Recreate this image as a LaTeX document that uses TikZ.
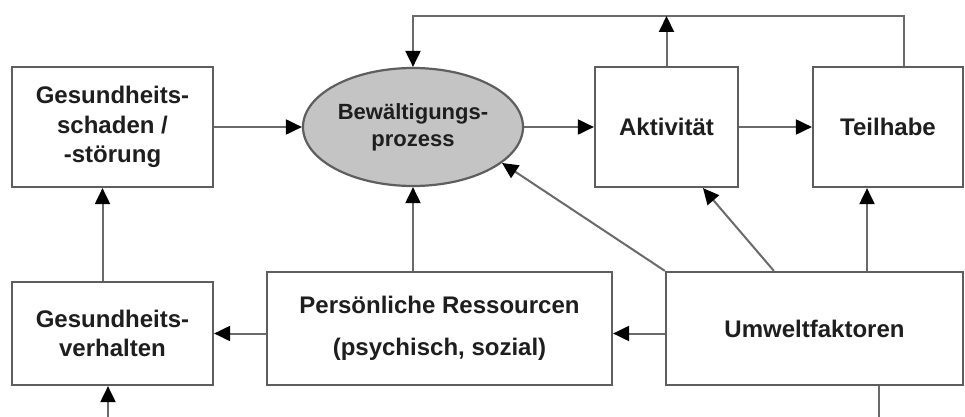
\documentclass[tikz,border=0pt]{standalone}
\usepackage{fontspec}
\setmainfont{Liberation Sans}
\usetikzlibrary{arrows.meta,shapes.geometric,calc}
\definecolor{linegray}{HTML}{6A6A6A}
\definecolor{boxgray}{HTML}{5E5E5E}
\definecolor{ellfill}{HTML}{C4C4C4}
\definecolor{txt}{HTML}{1E1E1E}
\tikzset{
  box/.style={draw=boxgray, line width=2.2pt, fill=white, rectangle, inner sep=0pt,
    align=center, text=txt, font=\fontsize{24}{29.5}\selectfont\bfseries},
  ell/.style={draw=boxgray, line width=2.2pt, fill=ellfill, ellipse, inner sep=0pt,
    align=center, text=txt, font=\fontsize{22}{27}\selectfont\bfseries},
  conn/.style={draw=linegray, line width=2pt},
  arr/.style={conn, -{Triangle[length=16pt,width=15pt,color=black]}}
}
\begin{document}
\begin{tikzpicture}[x=1pt,y=-1pt]
\useasboundingbox (0,0) rectangle (965,417);
\fill[white] (0,0) rectangle (965,417);
% nodes
\node[box, minimum width=201pt, minimum height=120pt] (gs) at (112.5,127) {Gesundheits-\\schaden /\\-störung};
\node[ell, minimum width=220pt, minimum height=118pt] (bew) at (413,127) {Bewältigungs-\\prozess};
\node[box, minimum width=143pt, minimum height=120pt] (akt) at (666.5,127) {Aktivität};
\node[box, minimum width=150pt, minimum height=120pt] (teil) at (888,127) {Teilhabe};
\node[box, minimum width=201pt, minimum height=103pt] (gv) at (112.5,333.5) {Gesundheits-\\verhalten};
\node[box, minimum width=345pt, minimum height=113pt, font=\fontsize{24}{42}\selectfont\bfseries] (pr) at (439.5,328.5) {Persönliche Ressourcen\\(psychisch, sozial)};
\node[box, minimum width=297pt, minimum height=113pt] (um) at (814.5,328.5) {Umweltfaktoren};
% helper coordinates
\coordinate (topR) at (904,16);
\coordinate (b1) at (108,417);
\coordinate (b2) at (879,417);
% connectors
\draw[arr] (teil.north -| topR) |- (bew.north |- topR) -- (bew.north);
\draw[arr] (akt.north) -- (akt.north |- topR);
\draw[arr] (gs.east) -- (bew.west);
\draw[arr] (bew.east) -- (akt.west);
\draw[arr] (akt.east) -- (teil.west);
\draw[arr] ([xshift=-10pt]gv.north) -- ([xshift=-10pt]gs.south);
\draw[arr] (pr.north -| bew.south) -- (bew.south);
\draw[arr] (pr.west |- gv.east) -- (gv.east);
\draw[arr] (um.west |- gv.east) -- (pr.east |- gv.east);
\draw[arr] (um.north west) -- (bew.-22);
\draw[arr] ([xshift=109pt]um.north west) -- ([xshift=36.5pt]akt.south);
\draw[arr] (um.north -| teil.south) ++(-21,0) coordinate (ut) -- (ut |- teil.south);
\draw[arr] (b1) -- (gv.south -| b1);
\draw[conn] (um.south -| b2) -- (b2);
\end{tikzpicture}
\end{document}
